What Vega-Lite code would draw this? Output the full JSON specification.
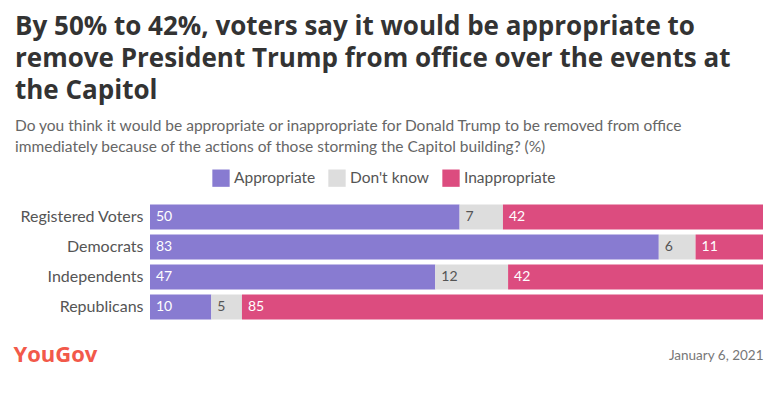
{
  "$schema": "https://vega.github.io/schema/vega-lite/v6.json",
  "width": 613,
  "height": 120,
  "autosize": "none",
  "padding": {"left": 150, "top": 202, "right": 10, "bottom": 71},
  "background": "white",
  "title": {
    "text": ["By 50% to 42%, voters say it would be appropriate to", "remove President Trump from office over the events at", "the Capitol"],
    "subtitle": ["Do you think it would be appropriate or inappropriate for Donald Trump to be removed from office", "immediately because of the actions of those storming the Capitol building? (%)"],
    "anchor": "start",
    "frame": "group",
    "dx": -135,
    "offset": 14,
    "font": "Open Sans",
    "fontSize": 26,
    "fontWeight": "bold",
    "color": "#333333",
    "lineHeight": 32,
    "subtitleFont": "Lato",
    "subtitleFontSize": 15.5,
    "subtitleColor": "#666666",
    "subtitleLineHeight": 21,
    "subtitlePadding": 15
  },
  "data": {
    "values": [
      {"group": "Registered Voters", "response": "Appropriate", "order": 1, "value": 50},
      {"group": "Registered Voters", "response": "Don't know", "order": 2, "value": 7},
      {"group": "Registered Voters", "response": "Inappropriate", "order": 3, "value": 42},
      {"group": "Democrats", "response": "Appropriate", "order": 1, "value": 83},
      {"group": "Democrats", "response": "Don't know", "order": 2, "value": 6},
      {"group": "Democrats", "response": "Inappropriate", "order": 3, "value": 11},
      {"group": "Independents", "response": "Appropriate", "order": 1, "value": 47},
      {"group": "Independents", "response": "Don't know", "order": 2, "value": 12},
      {"group": "Independents", "response": "Inappropriate", "order": 3, "value": 42},
      {"group": "Republicans", "response": "Appropriate", "order": 1, "value": 10},
      {"group": "Republicans", "response": "Don't know", "order": 2, "value": 5},
      {"group": "Republicans", "response": "Inappropriate", "order": 3, "value": 85}
    ]
  },
  "transform": [
    {"stack": "value", "groupby": ["group"], "sort": [{"field": "order", "order": "ascending"}], "offset": "normalize", "as": ["x0", "x1"]}
  ],
  "encoding": {
    "y": {
      "field": "group",
      "type": "nominal",
      "sort": ["Registered Voters", "Democrats", "Independents", "Republicans"],
      "scale": {"paddingInner": 0.1667, "paddingOuter": 0.0833},
      "axis": {
        "domain": false,
        "ticks": false,
        "labelFont": "Lato",
        "labelFontSize": 16,
        "labelColor": "#555555",
        "labelPadding": 7,
        "title": "YouGov",
        "titleAngle": 0,
        "titleAlign": "left",
        "titleBaseline": "middle",
        "titleX": -137,
        "titleY": 152,
        "titleFont": "Open Sans",
        "titleFontSize": 22,
        "titleFontWeight": "bold",
        "titleColor": "#f2594a"
      }
    }
  },
  "layer": [
    {
      "mark": {"type": "bar"},
      "encoding": {
        "x": {
          "field": "x0",
          "type": "quantitative",
          "scale": {"domain": [0, 1], "nice": false, "zero": true},
          "axis": {
            "domain": false,
            "ticks": false,
            "labels": false,
            "grid": false,
            "title": "January 6, 2021",
            "titleAlign": "right",
            "titleAnchor": "end",
            "titleBaseline": "middle",
            "titleX": 613,
            "titleY": 33,
            "titleFont": "Lato",
            "titleFontSize": 13.5,
            "titleFontWeight": "normal",
            "titleColor": "#777777"
          }
        },
        "x2": {"field": "x1"},
        "color": {
          "field": "response",
          "type": "nominal",
          "sort": ["Appropriate", "Don't know", "Inappropriate"],
          "scale": {"domain": ["Appropriate", "Don't know", "Inappropriate"], "range": ["#887bd1", "#dddddd", "#dc4c7f"]},
          "legend": {
            "title": null,
            "orient": "none",
            "direction": "horizontal",
            "legendX": 62,
            "legendY": -33,
            "symbolType": "square",
            "symbolSize": 300,
            "symbolStrokeWidth": 0,
            "symbolOpacity": 1,
            "labelFont": "Lato",
            "labelFontSize": 15.5,
            "labelColor": "#555555",
            "labelOffset": 4,
            "columnPadding": 12
          }
        }
      }
    },
    {
      "mark": {"type": "text", "align": "left", "baseline": "middle", "dx": 6, "font": "Lato", "fontSize": 14},
      "encoding": {
        "x": {"field": "x0", "type": "quantitative"},
        "text": {"field": "value", "type": "quantitative"},
        "color": {
          "condition": {"test": "datum.response === \"Don't know\"", "value": "#555555"},
          "value": "#ffffff"
        }
      }
    }
  ],
  "config": {"view": {"stroke": null}}
}
